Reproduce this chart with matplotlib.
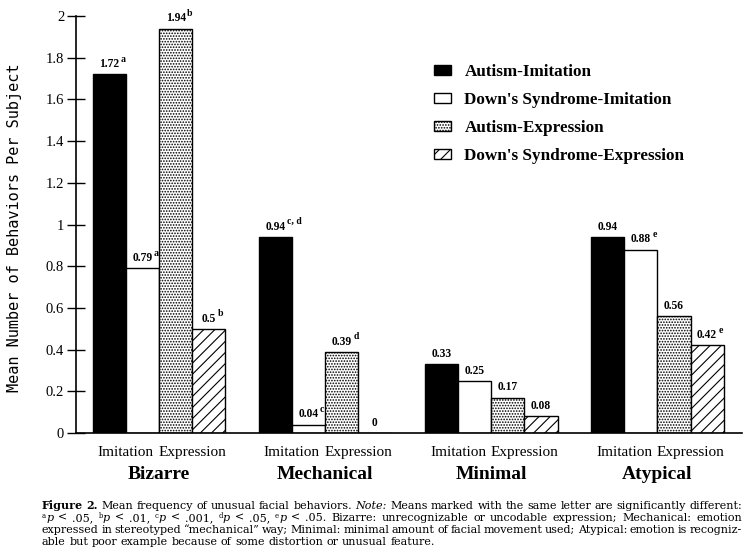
import matplotlib
matplotlib.use("Agg")
import matplotlib.pyplot as plt
import numpy as np

plt.rcParams['font.family'] = ['Liberation Serif', 'DejaVu Serif']
plt.rcParams['mathtext.fontset'] = 'stix'
plt.rcParams['hatch.linewidth'] = 0.8

categories = ["Bizarre", "Mechanical", "Minimal", "Atypical"]
series = ["Autism-Imitation", "Down's Syndrome-Imitation",
          "Autism-Expression", "Down's Syndrome-Expression"]
values = {
    "Autism-Imitation": [1.72, 0.94, 0.33, 0.94],
    "Down's Syndrome-Imitation": [0.79, 0.04, 0.25, 0.88],
    "Autism-Expression": [1.94, 0.39, 0.17, 0.56],
    "Down's Syndrome-Expression": [0.5, 0.0, 0.08, 0.42],
}
labels = {
    "Autism-Imitation": ["1.72", "0.94", "0.33", "0.94"],
    "Down's Syndrome-Imitation": ["0.79", "0.04", "0.25", "0.88"],
    "Autism-Expression": ["1.94", "0.39", "0.17", "0.56"],
    "Down's Syndrome-Expression": ["0.5", "0", "0.08", "0.42"],
}
sup_letters = {
    "Autism-Imitation": ["a", "c, d", "", ""],
    "Down's Syndrome-Imitation": ["a", "c", "", "e"],
    "Autism-Expression": ["b", "d", "", ""],
    "Down's Syndrome-Expression": ["b", "", "", "e"],
}
sublabels = ["Imitation", "Expression"]
yticks = [0, 0.2, 0.4, 0.6, 0.8, 1, 1.2, 1.4, 1.6, 1.8, 2]
ytick_labels = ["0", "0.2", "0.4", "0.6", "0.8", "1", "1.2", "1.4", "1.6", "1.8", "2"]

# caption: each line is a list of words, each word a list of (text, style)
caption_lines = [
    [[("Figure", "b")], [("2.", "b")], [("Mean", "n")], [("frequency", "n")], [("of", "n")],
     [("unusual", "n")], [("facial", "n")], [("behaviors.", "n")], [("Note:", "i")],
     [("Means", "n")], [("marked", "n")], [("with", "n")], [("the", "n")], [("same", "n")],
     [("letter", "n")], [("are", "n")], [("significantly", "n")], [("different:", "n")]],
    [[("a", "s"), ("p", "i")], [("<", "n")], [(".05,", "n")],
     [("b", "s"), ("p", "i")], [("<", "n")], [(".01,", "n")],
     [("c", "s"), ("p", "i")], [("<", "n")], [(".001,", "n")],
     [("d", "s"), ("p", "i")], [("<", "n")], [(".05,", "n")],
     [("e", "s"), ("p", "i")], [("<", "n")], [(".05.", "n")],
     [("Bizarre:", "n")], [("unrecognizable", "n")], [("or", "n")], [("uncodable", "n")],
     [("expression;", "n")], [("Mechanical:", "n")], [("emotion", "n")]],
    [[(w, "n")] for w in "expressed in stereotyped \u201cmechanical\u201d way; Minimal: minimal amount of facial movement used; Atypical: emotion is recogniz-".split(" ")],
    [[(w, "n")] for w in "able but poor example because of some distortion or unusual feature.".split(" ")],
]
caption_justify = [True, True, True, False]

styles = {
    "Autism-Imitation": dict(facecolor="black", hatch=None),
    "Down's Syndrome-Imitation": dict(facecolor="white", hatch=None),
    "Autism-Expression": dict(facecolor="white", hatch="......"),
    "Down's Syndrome-Expression": dict(facecolor="white", hatch="///"),
}

W, H = 746, 558
fig = plt.figure(figsize=(W / 100, H / 100), dpi=100)
ax = fig.add_axes([76 / W, 1 - 433 / H, (742 - 76) / W, (433 - 16) / H])

x = np.arange(len(categories))
w = 0.2
offsets = [-0.3, -0.1, 0.1, 0.3]
handles = []
for s, off in zip(series, offsets):
    st = styles[s]
    bars = ax.bar(x + off, values[s], width=w, facecolor=st["facecolor"],
                  edgecolor="black", linewidth=1.0, hatch=st["hatch"], label=s)
    handles.append(bars)
    for xi, v, lab, sup in zip(x + off, values[s], labels[s], sup_letters[s]):
        t = ax.annotate(lab, xy=(xi, v), xytext=(0, 3), textcoords="offset points",
                        ha="center", va="bottom", fontsize=8.3, fontweight="bold")
        if sup:
            ax.annotate(sup, xy=(1.0, 0.55), xycoords=t, xytext=(1, 0),
                        textcoords="offset points", ha="left", va="bottom",
                        fontsize=7, fontweight="bold")

ax.set_xlim(-0.5, 3.51)
ax.set_ylim(0, 2)
ax.set_yticks(yticks)
ax.set_yticklabels(ytick_labels, fontsize=10.5)
ax.tick_params(axis="y", direction="inout", length=13, width=1, pad=2)
ax.set_xticks([])
for sp in ["top", "right"]:
    ax.spines[sp].set_visible(False)
ax.spines["left"].set_linewidth(1.2)
ax.spines["bottom"].set_linewidth(1.2)

for xi, cat in zip(x, categories):
    ax.text(xi - 0.2, -0.094, sublabels[0], ha="center", va="center", fontsize=11)
    ax.text(xi + 0.2, -0.094, sublabels[1], ha="center", va="center", fontsize=11)
    ax.text(xi, -0.2, cat, ha="center", va="center", fontsize=14,
            fontweight="bold")

fig.text(15 / W, 1 - 228 / H, "Mean Number of Behaviors Per Subject",
         rotation=90, ha="center", va="center", fontsize=11,
         family="DejaVu Sans Mono")

leg = fig.legend(handles=handles, labels=series, loc="upper left",
                 bbox_to_anchor=(419 / W, 1 - 49 / H), frameon=False,
                 prop=dict(weight="bold", size=12.3), handlelength=1.0,
                 handleheight=0.55, labelspacing=0.7, handletextpad=0.76)

# caption drawn word by word, justified between left and right edges
cap_left, cap_right = 42, 742
cap_base = [509, 521, 533, 545]
renderer = fig.canvas.get_renderer()


def props_for(st, size):
    base = dict(family="DejaVu Serif", fontsize=size)
    if st == "b":
        base["fontweight"] = "bold"
    elif st == "i":
        base["fontstyle"] = "italic"
    elif st == "s":
        base["fontsize"] = size * 0.62
    return base


def measure(txt, props):
    t = fig.text(0, 0, txt, **props)
    wpx = t.get_window_extent(renderer).width
    t.remove()
    return wpx


def natural_width(words, size):
    sp = measure("a b", props_for("n", size)) - measure("ab", props_for("n", size))
    tot = sum(measure(tx, props_for(st, size)) for word in words for tx, st in word)
    return tot + sp * (len(words) - 1)


# choose a size so the first line fits the measured width with normal spacing
cap_font = 7.6 * (cap_right - cap_left - 6) / natural_width(caption_lines[0], 7.6)

space_w = measure("a b", props_for("n", cap_font)) - measure("ab", props_for("n", cap_font))
for words, yb, just in zip(caption_lines, cap_base, caption_justify):
    widths = [[measure(tx, props_for(st, cap_font)) for tx, st in word] for word in words]
    total = sum(sum(ws) for ws in widths)
    if just:
        gap = (cap_right - cap_left - total) / (len(words) - 1)
    else:
        gap = space_w
    xp = cap_left
    for word, ws in zip(words, widths):
        for (tx, st), wpx in zip(word, ws):
            dy = 3.5 if st == "s" else 0
            fig.text(xp / W, 1 - (yb - dy) / H, tx, ha="left", va="baseline",
                     **props_for(st, cap_font))
            xp += wpx
        xp += gap

fig.savefig("out.png", dpi=100)
